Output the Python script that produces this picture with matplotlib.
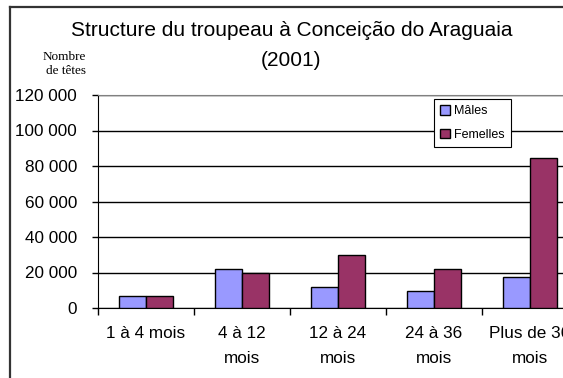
import matplotlib.pyplot as plt
import numpy as np
from matplotlib.patches import Rectangle
from matplotlib.lines import Line2D

# Classes d'âge et effectifs (nombre de têtes)
categories = ['1 à 4 mois', '4 à 12\nmois', '12 à 24\nmois', '24 à 36\nmois', 'Plus de 36\nmois']
males = [6500, 22000, 11700, 9800, 17500]
femelles = [6500, 19500, 30000, 22200, 84700]
yticks = [0, 20000, 40000, 60000, 80000, 100000, 120000]

c_males = '#9999FF'
c_femelles = '#993366'

plt.rcParams['font.family'] = ['Liberation Sans', 'DejaVu Sans']

fig = plt.figure(figsize=(5.63, 3.78), dpi=100)
ax = fig.add_axes([98 / 563, 70 / 378, 480 / 563, 213 / 378])

x = np.arange(len(categories))
w = 0.286
ax.bar(x - w / 2, males, w, color=c_males, edgecolor='black', linewidth=1.0, zorder=3)
ax.bar(x + w / 2, femelles, w, color=c_femelles, edgecolor='black', linewidth=1.0, zorder=3)

ax.set_xlim(-0.5, len(categories) - 0.5)
ax.set_ylim(0, 120000)
ax.set_yticks(yticks)
ax.set_yticklabels([f'{v:,}'.replace(',', ' ') for v in yticks], fontsize=12.3)
ax.grid(axis='y', color='black', linewidth=1.0, zorder=0)

# ticks de séparation entre catégories, libellés au centre
ax.set_xticks(np.arange(-0.5, len(categories), 1.0))
ax.set_xticklabels([])
ax.set_xticks(x, minor=True)
ax.set_xticklabels(categories, minor=True, fontsize=12.3, linespacing=1.8)
ax.tick_params(axis='x', which='major', direction='out', length=5, width=1)
ax.tick_params(axis='x', which='minor', length=0, pad=13)
ax.tick_params(axis='y', direction='out', length=4, width=1, pad=11)

ax.spines['left'].set_color('black')
ax.spines['bottom'].set_color('black')
ax.spines['top'].set_color('#808080')
ax.spines['right'].set_color('#808080')

fig.text(291.5 / 563, 1 - 31 / 378, 'Structure du troupeau à Conceição do Araguaia',
         ha='center', va='center', fontsize=15)
fig.text(291.5 / 563, 1 - 60 / 378, '(2001)', ha='center', va='center', fontsize=15)
fig.text(86 / 563, 1 - 64 / 378, 'Nombre\nde têtes', ha='right', va='center',
         fontsize=9.5, family=['Liberation Serif', 'DejaVu Serif'], linespacing=1.3)

# cadre extérieur du graphique
fig.add_artist(Line2D([10 / 563, 10 / 563], [0, 1 - 7 / 378], transform=fig.transFigure,
                      color='#333333', linewidth=1.6))
fig.add_artist(Line2D([10 / 563, 1], [1 - 7 / 378, 1 - 7 / 378], transform=fig.transFigure,
                      color='#333333', linewidth=1.6))

handles = [Rectangle((0, 0), 1, 1, facecolor=c_males, edgecolor='black'),
           Rectangle((0, 0), 1, 1, facecolor=c_femelles, edgecolor='black')]
leg = fig.legend(handles, ['Mâles', 'Femelles'], loc='upper left',
                 bbox_to_anchor=(434 / 563, 1 - 99 / 378), borderaxespad=0,
                 fontsize=9, handlelength=0.8, handleheight=0.8, handletextpad=0.3,
                 labelspacing=0.9, borderpad=0.5, fancybox=False,
                 edgecolor='black', framealpha=1)
leg.get_frame().set_linewidth(0.8)

fig.savefig('out.png', dpi=100)
